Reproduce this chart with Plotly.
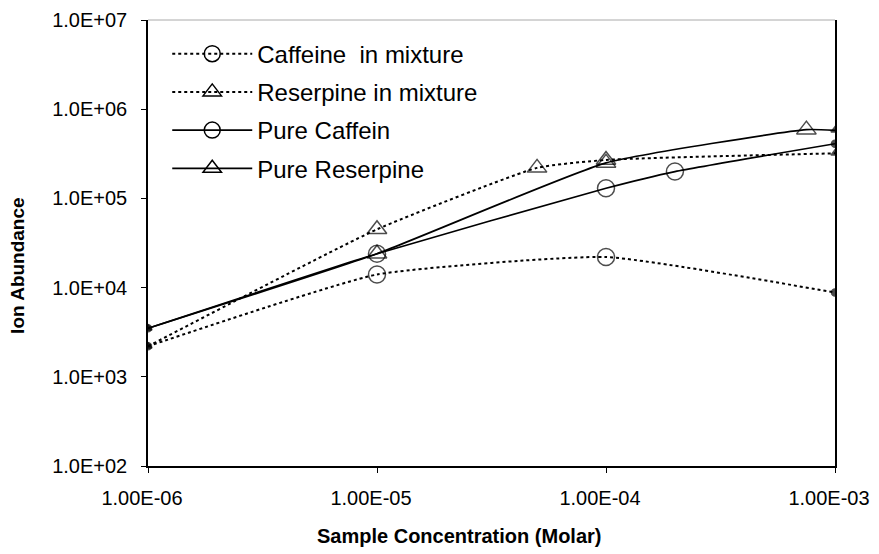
import plotly.graph_objects as go

# sample concentrations (Molar) and ion abundances
caf_mix_x = [1e-6, 1e-5, 1e-4, 1e-3]
caf_mix_y = [2.2e3, 1.4e4, 2.2e4, 8.8e3]

res_mix_x = [1e-6, 1e-5, 5e-5, 1e-4, 1e-3]
res_mix_y = [2.2e3, 4.5e4, 2.2e5, 2.7e5, 3.2e5]

caf_pure_x = [1e-6, 1e-5, 1e-4, 2e-4, 1e-3]
caf_pure_y = [3.5e3, 2.4e4, 1.3e5, 2.0e5, 4.1e5]

res_pure_x = [1e-6, 1e-5, 1e-4, 7.5e-4, 1e-3]
res_pure_y = [3.5e3, 2.4e4, 2.5e5, 5.9e5, 5.8e5]

x_ticks = [1e-6, 1e-5, 1e-4, 1e-3]
x_labels = ["1.00E-06", "1.00E-05", "1.00E-04", "1.00E-03"]
y_ticks = [1e2, 1e3, 1e4, 1e5, 1e6, 1e7]
y_labels = ["1.0E+02", "1.0E+03", "1.0E+04", "1.0E+05", "1.0E+06", "1.0E+07"]


def marker_style(n, sym):
    # end points come out as small filled dots on the original, inner ones open
    symbols = [sym + "-open"] * n
    sizes = [17] * n
    symbols[0] = sym
    symbols[-1] = sym
    sizes[0] = 7
    sizes[-1] = 7
    return dict(symbol=symbols, size=sizes, color="black", line=dict(width=1.5, color="black"))


series = [
    ("Caffeine  in mixture", caf_mix_x, caf_mix_y, "circle", "dot", 2),
    ("Reserpine in mixture", res_mix_x, res_mix_y, "triangle-up", "dot", 2),
    ("Pure Caffein", caf_pure_x, caf_pure_y, "circle", "solid", 1.7),
    ("Pure Reserpine", res_pure_x, res_pure_y, "triangle-up", "solid", 1.7),
]

fig = go.Figure()

for name, xs, ys, sym, dash, w in series:
    fig.add_trace(go.Scatter(
        x=xs, y=ys, name=name, mode="lines+markers", showlegend=False,
        line=dict(color="black", width=w, dash=dash, shape="spline", smoothing=0.45),
        marker=marker_style(len(xs), sym)
    ))

# legend entries with the open symbols
for name, xs, ys, sym, dash, w in series:
    fig.add_trace(go.Scatter(
        x=[None], y=[None], name=name, legendgroup=name, mode="lines+markers",
        line=dict(color="black", width=w, dash=dash),
        marker=dict(symbol=sym + "-open", size=17, color="black", line=dict(width=1.5, color="black"))
    ))

# faint top border like the scan
fig.add_shape(type="line", xref="x domain", yref="y domain", x0=0, x1=1, y0=1, y1=1,
              line=dict(color="#aaaaaa", width=1))

# axis titles placed by hand, they sit off-centre on the original
fig.add_annotation(text="<b>Sample Concentration (Molar)</b>", xref="paper", yref="paper",
                   x=0.453, y=-0.158, xanchor="center", yanchor="middle",
                   showarrow=False, font=dict(size=20))
fig.add_annotation(text="<b>Ion Abundance</b>", xref="paper", yref="paper", textangle=-90,
                   x=-0.189, y=0.449, xanchor="center", yanchor="middle",
                   showarrow=False, font=dict(size=19))

# page has an 8px body margin, so margins are shifted to keep the plot box in place
fig.update_layout(
    width=879, height=554,
    margin=dict(l=140, r=52, t=12, b=96),
    paper_bgcolor="white", plot_bgcolor="white",
    font=dict(family="Liberation Sans, Arial, sans-serif", color="black", size=20),
    legend=dict(
        x=0.028, y=0.974, xanchor="left", yanchor="top",
        font=dict(size=24), itemwidth=80, bgcolor="rgba(0,0,0,0)",
        tracegroupgap=4
    ),
    xaxis=dict(
        type="log", range=[-6, -3], automargin=False,
        tickvals=x_ticks, ticktext=x_labels, tickfont=dict(size=20),
        showgrid=False, zeroline=False,
        showline=True, linecolor="black", linewidth=1.5,
        ticks="outside", ticklen=5, tickcolor="black", ticklabelstandoff=8,
        ticklabelshift=-6, ticklabeloverflow="allow"
    ),
    yaxis=dict(
        type="log", range=[2, 7], automargin=False,
        tickvals=y_ticks, ticktext=y_labels, tickfont=dict(size=20),
        showgrid=False, zeroline=False,
        showline=True, linecolor="black", linewidth=1.5, mirror=True,
        ticks="outside", ticklen=5, tickcolor="black", ticklabelstandoff=10,
        ticklabeloverflow="allow"
    ),
)

fig.write_html("out.html")
